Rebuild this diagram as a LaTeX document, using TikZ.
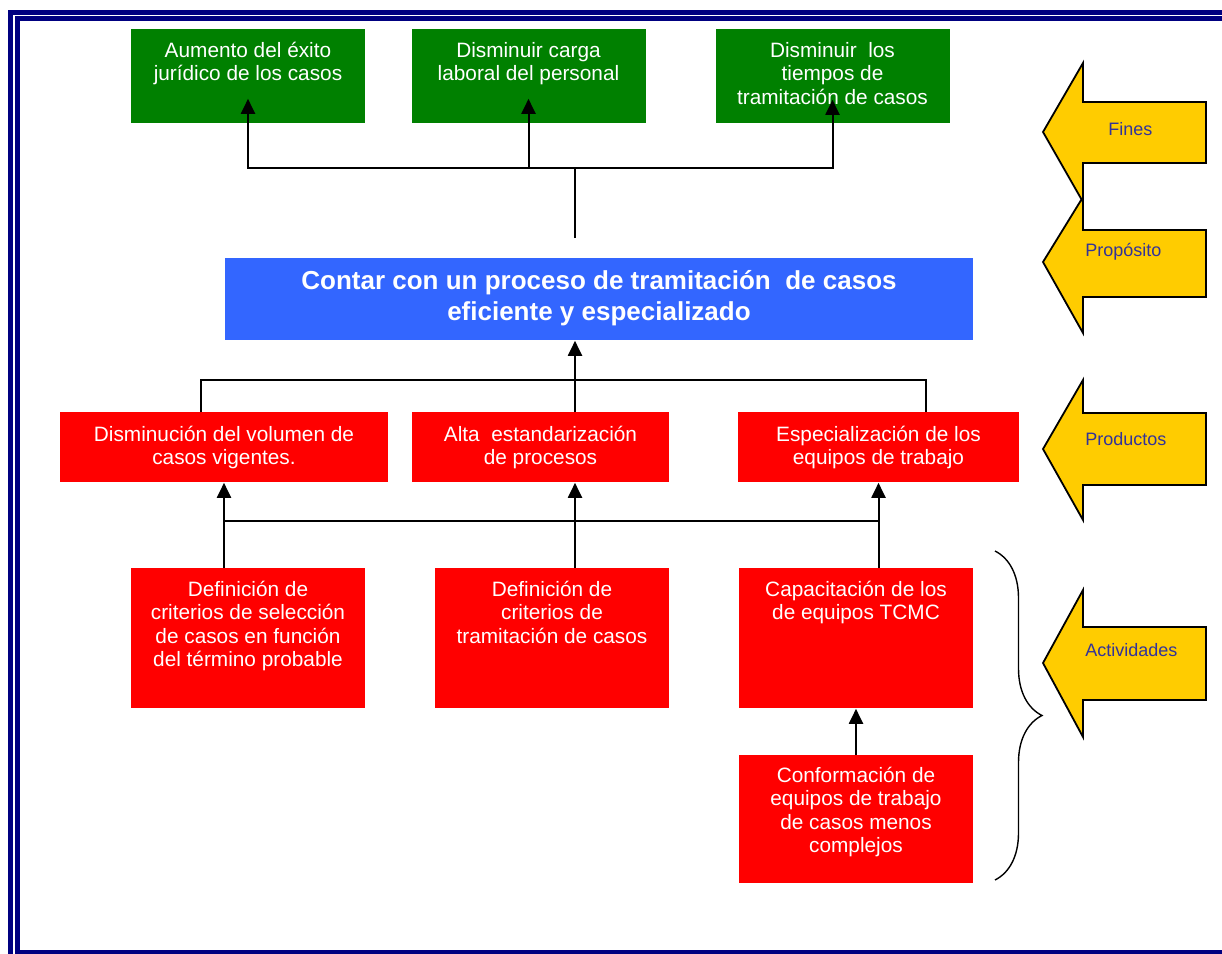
\documentclass[tikz,border=0pt]{standalone}
\usepackage{fontspec}
\setmainfont{Liberation Sans}
\usetikzlibrary{positioning,arrows.meta,decorations.pathreplacing}
\definecolor{fingreen}{HTML}{008000}
\definecolor{prodred}{HTML}{FF0000}
\definecolor{propblue}{HTML}{3366FF}
\definecolor{levelyellow}{HTML}{FFCC00}
\definecolor{levelblue}{HTML}{333399}
\definecolor{framenavy}{HTML}{000080}
\newcommand{\boxlines}[1]{\parbox[t]{320pt}{\centering #1}}
\tikzset{greenbox/.style={rectangle, fill=fingreen, anchor=north, inner sep=0, minimum width=117pt, minimum height=47pt},
redbox/.style={rectangle, fill=prodred, anchor=north, inner sep=0, minimum height=35pt},
actbox/.style={rectangle, fill=prodred, anchor=north, inner sep=0, minimum width=117pt, minimum height=70pt},
boxtext/.style={anchor=base, text=white, inner sep=0, font=\fontsize{10.4}{11.8}\selectfont},
leveltext/.style={anchor=west, text=levelblue, inner sep=0, font=\fontsize{9}{11}\selectfont},
levelarrow/.style={fill=levelyellow, draw=black, line width=0.9pt, line join=miter},
uparrow/.style={line width=1pt, -{Triangle[width=7pt,length=7.5pt]}},
plainline/.style={line width=1pt},}

\begin{document}
\begin{tikzpicture}[x=0.5pt, y=-0.5pt]
\useasboundingbox (0,0) rectangle (1222,954);
\clip (0,0) rectangle (1222,954);
\fill[white] (0,0) rectangle (1222,954);
% frame
\draw[framenavy, line width=2.25pt] (10.3,12.5) rectangle (1240,975);
\draw[framenavy, line width=2.5pt] (17,18.7) rectangle (1235,952);

% fines
\node[greenbox] (f1) at (248,29) {};
\node[greenbox] (f2) at (528.5,29) {};
\node[greenbox] (f3) at (832.5,29) {};
\node[boxtext] (f1t) at ([yshift=-14pt]f1.north) {\boxlines{Aumento del éxito\\jurídico de los casos}};
\node[boxtext] (f2t) at ([yshift=-14pt]f2.north) {\boxlines{Disminuir carga\\laboral del personal}};
\node[boxtext] (f3t) at ([yshift=-14pt]f3.north) {\boxlines{Disminuir~ los\\tiempos de\\tramitación de casos}};

% proposito
\node[rectangle, fill=propblue, anchor=north, inner sep=0, minimum width=374pt, minimum height=41pt] (prop) at (599,258) {};
\node[boxtext, font=\bfseries\fontsize{13}{15.5}\selectfont] (propt) at ([yshift=-15.5pt]prop.north) {\boxlines{Contar con un proceso de tramitación~ de casos\\eficiente y especializado}};

% productos
\node[redbox, minimum width=164pt] (p1) at (224,412) {};
\node[redbox, minimum width=128.5pt] (p2) at (540.5,412) {};
\node[redbox, minimum width=140.5pt] (p3) at (878.5,412) {};
\node[boxtext] (p1t) at ([yshift=-14.5pt]p1.north) {\boxlines{Disminución del volumen de\\casos vigentes.}};
\node[boxtext] (p2t) at ([yshift=-14.5pt]p2.north) {\boxlines{Alta~ estandarización\\de procesos}};
\node[boxtext] (p3t) at ([yshift=-14.5pt]p3.north) {\boxlines{Especialización de los\\equipos de trabajo}};

% actividades
\node[actbox] (a1) at (248,568) {};
\node[actbox] (a2) at (552,568) {};
\node[actbox] (a3) at (856,568) {};
\node[actbox, minimum height=64pt] (a4) at (856,755) {};
\node[boxtext] (a1t) at ([yshift=-14pt]a1.north) {\boxlines{Definición de\\criterios de selección\\de casos en función\\del término probable}};
\node[boxtext] (a2t) at ([yshift=-14pt]a2.north) {\boxlines{Definición de\\criterios de\\tramitación de casos}};
\node[boxtext] (a3t) at ([yshift=-14pt]a3.north) {\boxlines{Capacitación de los\\de equipos TCMC}};
\node[boxtext] (a4t) at ([yshift=-13.5pt]a4.north) {\boxlines{Conformación de\\equipos de trabajo\\de casos menos\\complejos}};

% connectors
\coordinate (fj) at (575,168);
\coordinate (ftop) at (575,238);
\draw[plainline] (ftop) -- (fj);
\draw[uparrow] (fj) -| ([yshift=12.5pt]f1.south);
\draw[uparrow] (fj) -| ([yshift=12.5pt]f2.south);
\draw[uparrow] (fj) -| ([yshift=12pt]f3.south);

\coordinate (pj) at (575,380);
\draw[plainline] ([xshift=-11.5pt]p1.north) |- (pj) -| ([xshift=23.75pt]p3.north);
\draw[uparrow] (p2.north -| pj) -- (prop.south -| pj);

\coordinate (aj) at (575,521);
\draw[plainline] (aj -| p1.south) -- (aj -| p3.south);
\draw[uparrow] (a1.north -| p1.south) -- (p1.south);
\draw[uparrow] (a2.north -| aj) -- (p2.south -| aj);
\draw[uparrow] (a3.north -| p3.south) -- (p3.south);
\draw[uparrow] (a4) -- (a3);

% brace
\draw[line width=0.7pt, decorate, decoration={brace, amplitude=23.5pt}] (995,551) -- (995,880);

% side arrows
\foreach \tipy/\heada/\shafta/\shaftb/\headb/\labx/\laby/\lbl [count=\i] in {262/197/230/297/333/1085/252/Propósito, 132/63/102/163/202/1108/129/Fines, 449/380/413/485/520/1085/439/Productos, 663/590/627/700/737/1085/650/Actividades} {
  \draw[levelarrow] (1043,\tipy) -- (1083,\heada) -- (1083,\shafta) -- (1206,\shafta) -- (1206,\shaftb) -- (1083,\shaftb) -- (1083,\headb) -- cycle;
  \node[leveltext] (level\i) at (\labx,\laby) {\lbl};
}
\end{tikzpicture}
\end{document}
